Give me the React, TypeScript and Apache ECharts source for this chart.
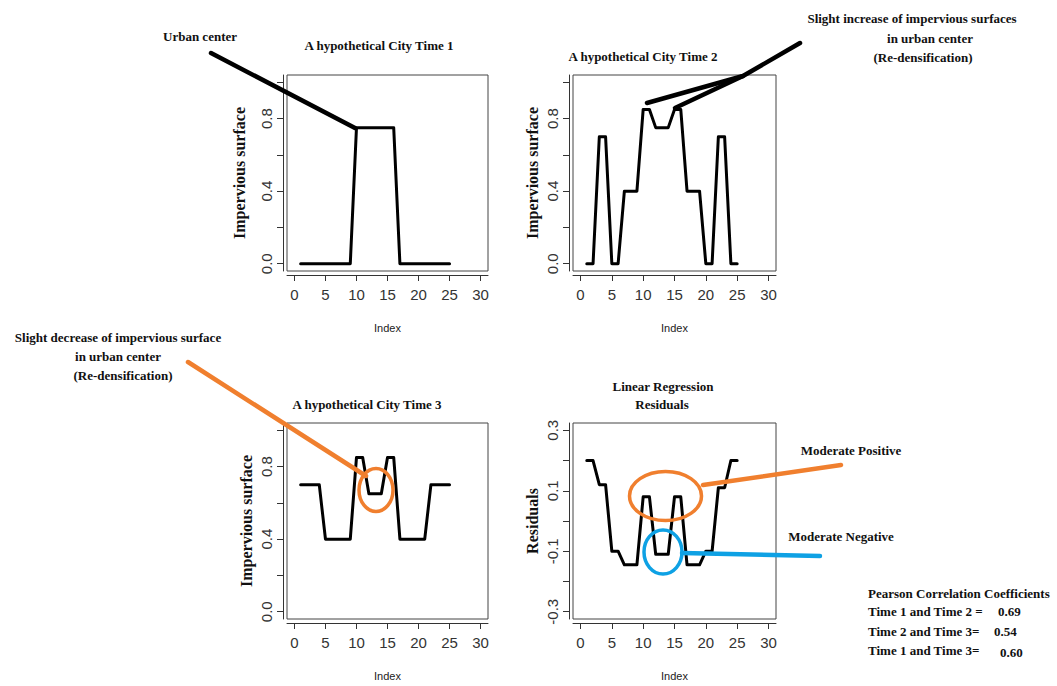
import React, { useEffect, useRef } from "react";
import * as echarts from "echarts";

// ---------- data ----------
const indexValues = [1, 2, 3, 4, 5, 6, 7, 8, 9, 10, 11, 12, 13, 14, 15, 16, 17, 18, 19, 20, 21, 22, 23, 24, 25];
const time1 = [0, 0, 0, 0, 0, 0, 0, 0, 0, 0.75, 0.75, 0.75, 0.75, 0.75, 0.75, 0.75, 0, 0, 0, 0, 0, 0, 0, 0, 0];
const time2 = [0, 0, 0.7, 0.7, 0, 0, 0.4, 0.4, 0.4, 0.85, 0.85, 0.75, 0.75, 0.75, 0.85, 0.85, 0.4, 0.4, 0.4, 0, 0, 0.7, 0.7, 0, 0];
const time3 = [0.7, 0.7, 0.7, 0.7, 0.4, 0.4, 0.4, 0.4, 0.4, 0.85, 0.85, 0.65, 0.65, 0.65, 0.85, 0.85, 0.4, 0.4, 0.4, 0.4, 0.4, 0.7, 0.7, 0.7, 0.7];
const residuals = [0.2, 0.2, 0.12, 0.12, -0.1, -0.1, -0.145, -0.145, -0.145, 0.08, 0.08, -0.11, -0.11, -0.11, 0.08, 0.08, -0.145, -0.145, -0.145, -0.1, -0.1, 0.11, 0.11, 0.2, 0.2];

const xTicks = [0, 5, 10, 15, 20, 25, 30];
const surfaceTicks = [0, 0.2, 0.4, 0.6, 0.8, 1.0];
const surfaceLabels = [0, 0.4, 0.8];
const residualTicks = [-0.3, -0.2, -0.1, 0, 0.1, 0.2, 0.3];
const residualLabels = [-0.3, -0.1, 0.1, 0.3];

const panelTitles = ["A hypothetical City Time 1", "A hypothetical City Time 2", "A hypothetical City Time 3"];
const residualTitle = ["Linear Regression", "Residuals"];
const pearsonPairs = ["Time 1 and Time 2 =", "Time 2 and Time 3=", "Time 1 and Time 3="];
const pearsonValues = ["0.69", "0.54", "0.60"];

// ---------- styling ----------
const SERIF = '"Liberation Serif", "Times New Roman", serif';
const SANS = '"Liberation Sans", Arial, sans-serif';
const ORANGE = "#F07F2E";
const BLUE = "#0EA1E4";
const AXIS = "#333";

const grids = [
  { left: 287, top: 75, width: 201, height: 196 },
  { left: 573, top: 75, width: 203, height: 196 },
  { left: 287, top: 423, width: 201, height: 196 },
  { left: 573, top: 423, width: 203, height: 196 },
];

function xAxisFor(gridIndex: number) {
  return {
    type: "value",
    gridIndex,
    min: -1.2,
    max: 31.2,
    position: "bottom",
    offset: 4,
    axisLine: { show: true, onZero: false, lineStyle: { color: AXIS, width: 1 } },
    axisTick: { show: true, length: 6, customValues: xTicks, lineStyle: { color: AXIS, width: 1 } },
    axisLabel: {
      customValues: xTicks,
      margin: 12,
      fontSize: 15,
      fontFamily: SANS,
      color: "#333",
      formatter: (v: number) => String(v),
    },
    splitLine: { show: false },
    name: "Index",
    nameLocation: "middle",
    nameGap: 47,
    nameTextStyle: { fontSize: 11, fontFamily: SANS, color: "#222" },
  };
}

function yAxisFor(gridIndex: number, min: number, max: number, ticks: number[], labels: number[], name: string, nameGap: number) {
  return {
    type: "value",
    gridIndex,
    min,
    max,
    position: "left",
    offset: 4,
    axisLine: { show: true, onZero: false, lineStyle: { color: AXIS, width: 1 } },
    axisTick: { show: true, length: 6, customValues: ticks, lineStyle: { color: AXIS, width: 1 } },
    axisLabel: {
      customValues: labels,
      rotate: 90,
      margin: 9,
      fontSize: 15,
      fontFamily: SANS,
      color: "#333",
      formatter: (v: number) => v.toFixed(1),
    },
    splitLine: { show: false },
    name,
    nameLocation: "middle",
    nameGap,
    nameTextStyle: { fontSize: 16, fontFamily: SERIF, fontWeight: "bold", color: "#111" },
  };
}

function lineSeries(idx: number, values: number[]) {
  return {
    type: "line",
    xAxisIndex: idx,
    yAxisIndex: idx,
    data: indexValues.map((x, i) => [x, values[i]]),
    showSymbol: false,
    symbol: "none",
    lineStyle: { color: "#000", width: 3, join: "round", cap: "round" },
    z: 3,
  };
}

function label(text: string, x: number, y: number, align = "center", size = 13) {
  return {
    type: "text",
    x,
    y,
    z: 50,
    style: {
      text,
      fill: "#111",
      font: `bold ${size}px ${SERIF}`,
      align,
      verticalAlign: "middle",
    },
  };
}

function stroke(points: number[][], color: string, width: number) {
  return {
    type: "polyline",
    z: 40,
    shape: { points },
    style: { stroke: color, lineWidth: width, fill: "none", lineCap: "round", lineJoin: "round" },
  };
}

function ellipse(cx: number, cy: number, rx: number, ry: number, color: string) {
  return {
    type: "ellipse",
    z: 45,
    shape: { cx, cy, rx, ry },
    style: { stroke: color, lineWidth: 3.5, fill: "none" },
  };
}

export default function App() {
  const ref = useRef<HTMLDivElement>(null);

  useEffect(() => {
    document.body.style.margin = "0";
    const chart = echarts.init(ref.current!, null, { renderer: "svg" });

    const graphics: any[] = [
      // titles
      label(panelTitles[0], 379, 45),
      label(panelTitles[1], 643, 56),
      label(panelTitles[2], 367, 404),
      label(residualTitle[0], 663, 386),
      label(residualTitle[1], 662, 404),
      // Time 1 annotation
      label("Urban center", 200, 36),
      stroke([[211, 53], [355, 128]], "#000", 4.5),
      // Time 2 annotation
      label("Slight increase of impervious surfaces", 912, 18),
      label("in urban center", 930, 38),
      label("(Re-densification)", 923, 57),
      stroke([[647, 103], [743, 76], [800, 43]], "#000", 4.5),
      stroke([[675, 108], [743, 76]], "#000", 4.5),
      // Time 3 annotation
      label("Slight decrease of impervious surface", 118, 337),
      label("in urban center", 118, 356),
      label("(Re-densification)", 123, 375),
      stroke([[188, 362], [366, 476]], ORANGE, 4.5),
      ellipse(376, 490, 17, 21.5, ORANGE),
      // Residual annotations
      ellipse(665.5, 496, 36, 24.5, ORANGE),
      stroke([[703, 485], [841, 465]], ORANGE, 4.5),
      label("Moderate Positive", 851, 450),
      ellipse(663, 552, 19, 22, BLUE),
      stroke([[682, 553], [820, 556]], BLUE, 4.5),
      label("Moderate Negative", 841, 536),
      // Pearson coefficients
      label("Pearson Correlation Coefficients", 868, 593, "left"),
      label(pearsonPairs[0], 868, 611, "left"),
      label(pearsonValues[0], 998, 611, "left"),
      label(pearsonPairs[1], 868, 631, "left"),
      label(pearsonValues[1], 994, 631, "left"),
      label(pearsonPairs[2], 868, 650, "left"),
      label(pearsonValues[2], 1000, 652, "left"),
    ];

    chart.setOption({
      animation: false,
      backgroundColor: "#fff",
      grid: grids.map((g) => ({ ...g, show: true, borderColor: "#444", borderWidth: 1, backgroundColor: "transparent" })),
      xAxis: [0, 1, 2, 3].map((i) => xAxisFor(i)),
      yAxis: [
        yAxisFor(0, -0.04, 1.04, surfaceTicks, surfaceLabels, "Impervious surface", 36),
        yAxisFor(1, -0.04, 1.04, surfaceTicks, surfaceLabels, "Impervious surface", 29),
        yAxisFor(2, -0.04, 1.04, surfaceTicks, surfaceLabels, "Impervious surface", 29),
        yAxisFor(3, -0.324, 0.324, residualTicks, residualLabels, "Residuals", 29),
      ],
      series: [lineSeries(0, time1), lineSeries(1, time2), lineSeries(2, time3), lineSeries(3, residuals)],
      graphic: graphics,
    });

    return () => chart.dispose();
  }, []);

  return <div ref={ref} style={{ width: 1057, height: 686 }} />;
}
